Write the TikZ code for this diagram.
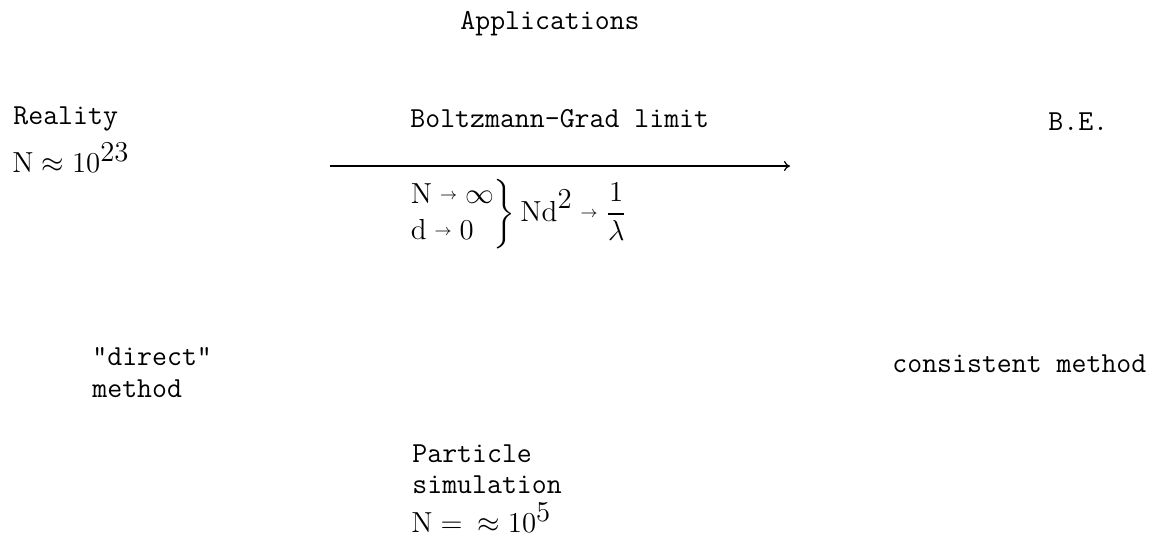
\documentclass[tikz,border=0pt]{standalone}
\usepackage{amsmath, amssymb}
\usepackage{fontspec}
\usepackage{tikz}
\usetikzlibrary{arrows.meta}

\newcommand{\sto}{\mathrel{\vcenter{\hbox{\footnotesize$\rightarrow$}}}}

\begin{document}
\begin{tikzpicture}[x=0.5pt, y=-0.5pt,
    txt/.style={font=\fontsize{14.5}{18}\selectfont\ttfamily, inner sep=0pt, anchor=base west}]
    \useasboundingbox (0,0) rectangle (1166,546);

    % Title
    \node[txt] (apps) at (460,29) {Applications};

    % Left column
    \node[txt] (reality) at (13,124) {Reality};
    \node[txt] (realityN) at (12,172) {$\mathrm{N}\approx 10^{\textstyle 23}$};
    \node[txt] (direct) at (92,365) {"direct"};
    \node[txt] (directM) at (92,397) {method};

    % Boltzmann-Grad limit
    \node[txt] (bgLabel) at (410,127) {Boltzmann-Grad limit};
    \coordinate (bgStart) at (330,166);
    \coordinate (bgEnd) at (790,166);
    \draw[semithick, -{To[length=3pt, width=5pt]}] (bgStart) -- (bgEnd);
    \node[txt, anchor=west] (bgCond) at (408,214)
        {$\left.\begin{array}{@{}l@{}}\mathrm{N}\sto\infty\\ \mathrm{d}\sto 0\end{array}\right\}
          \mathrm{Nd}^{\textstyle 2}\sto\dfrac{1}{\lambda}$};

    % Right column
    \node[txt] (be) at (1048,130) {B.E.};
    \node[txt] (consistent) at (892,372) {consistent method};

    % Particle simulation
    \node[txt] (particle) at (412,462) {Particle};
    \node[txt] (simulation) at (412,493) {simulation};
    \node[txt] (particleN) at (411,532) {$\mathrm{N} =\ \approx 10^{\textstyle 5}$};
\end{tikzpicture}
\end{document}
